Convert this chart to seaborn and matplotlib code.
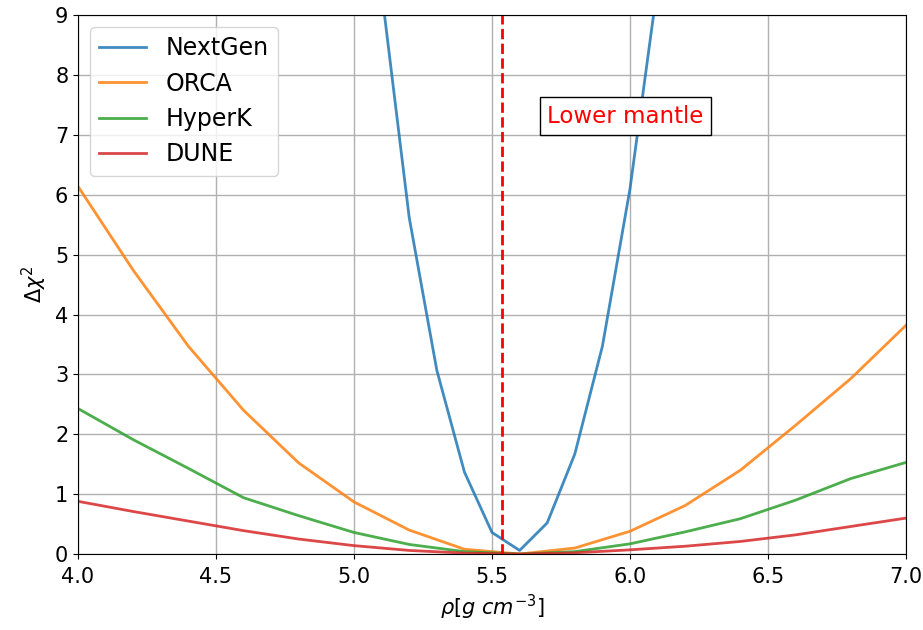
import numpy as np
import pandas as pd
import matplotlib
matplotlib.use("Agg")
import matplotlib.pyplot as plt
import seaborn as sns

# density grid (g/cm^3)
rho_coarse = [4.0, 4.2, 4.4, 4.6, 4.8, 5.0, 5.2, 5.4, 5.6, 5.8, 6.0, 6.2, 6.4, 6.6, 6.8, 7.0]
rho_fine = [5.0, 5.1, 5.2, 5.3, 5.4, 5.5, 5.6, 5.7, 5.8, 5.9, 6.0, 6.1, 6.2]

# delta chi^2 per experiment
nextgen = [14.0, 9.4, 5.62, 3.07, 1.37, 0.36, 0.06, 0.52, 1.67, 3.47, 6.1, 9.5, 13.5]
orca = [6.14, 4.74, 3.47, 2.40, 1.52, 0.87, 0.40, 0.08, 0.0, 0.10, 0.38, 0.81, 1.40, 2.15, 2.93, 3.82]
hyperk = [2.43, 1.91, 1.43, 0.94, 0.64, 0.36, 0.16, 0.04, 0.0, 0.04, 0.17, 0.37, 0.59, 0.90, 1.26, 1.53]
dune = [0.88, 0.71, 0.55, 0.39, 0.25, 0.14, 0.06, 0.015, 0.0, 0.02, 0.07, 0.13, 0.21, 0.32, 0.46, 0.60]

lower_mantle_rho = 5.535

df = pd.concat([
    pd.DataFrame({"rho": rho_fine, "chi2": nextgen, "exp": "NextGen"}),
    pd.DataFrame({"rho": rho_coarse, "chi2": orca, "exp": "ORCA"}),
    pd.DataFrame({"rho": rho_coarse, "chi2": hyperk, "exp": "HyperK"}),
    pd.DataFrame({"rho": rho_coarse, "chi2": dune, "exp": "DUNE"}),
])

fig, ax = plt.subplots(figsize=(9.23, 6.3), dpi=100)
fig.subplots_adjust(left=0.0845, right=0.9816, top=0.976, bottom=0.1206)

sns.lineplot(data=df, x="rho", y="chi2", hue="exp", palette="tab10",
             ax=ax, alpha=0.85, linewidth=2, sort=False, estimator=None)

ax.axvline(lower_mantle_rho, color="red", linestyle="--", linewidth=2)
ax.text(5.7, 7.2, "Lower mantle", color="red", fontsize=16.5,
        bbox=dict(facecolor="white", edgecolor="black", pad=5.5))

ax.set_xlim(4.0, 7.0)
ax.set_ylim(0, 9)
ax.set_xticks(np.arange(4.0, 7.01, 0.5))
ax.set_yticks(range(0, 10))
ax.tick_params(labelsize=15)
ax.tick_params(axis="x", pad=6)
ax.grid(True, color="#b0b0b0", linewidth=1)
ax.set_xlabel(r"$\rho[g\ cm^{-3}]$", fontsize=15)
ax.set_ylabel(r"$\Delta\chi^2$", fontsize=15)
ax.legend(loc="upper left", fontsize=17, labelspacing=0.48, title=None)

fig.savefig("out.png", dpi=100)
